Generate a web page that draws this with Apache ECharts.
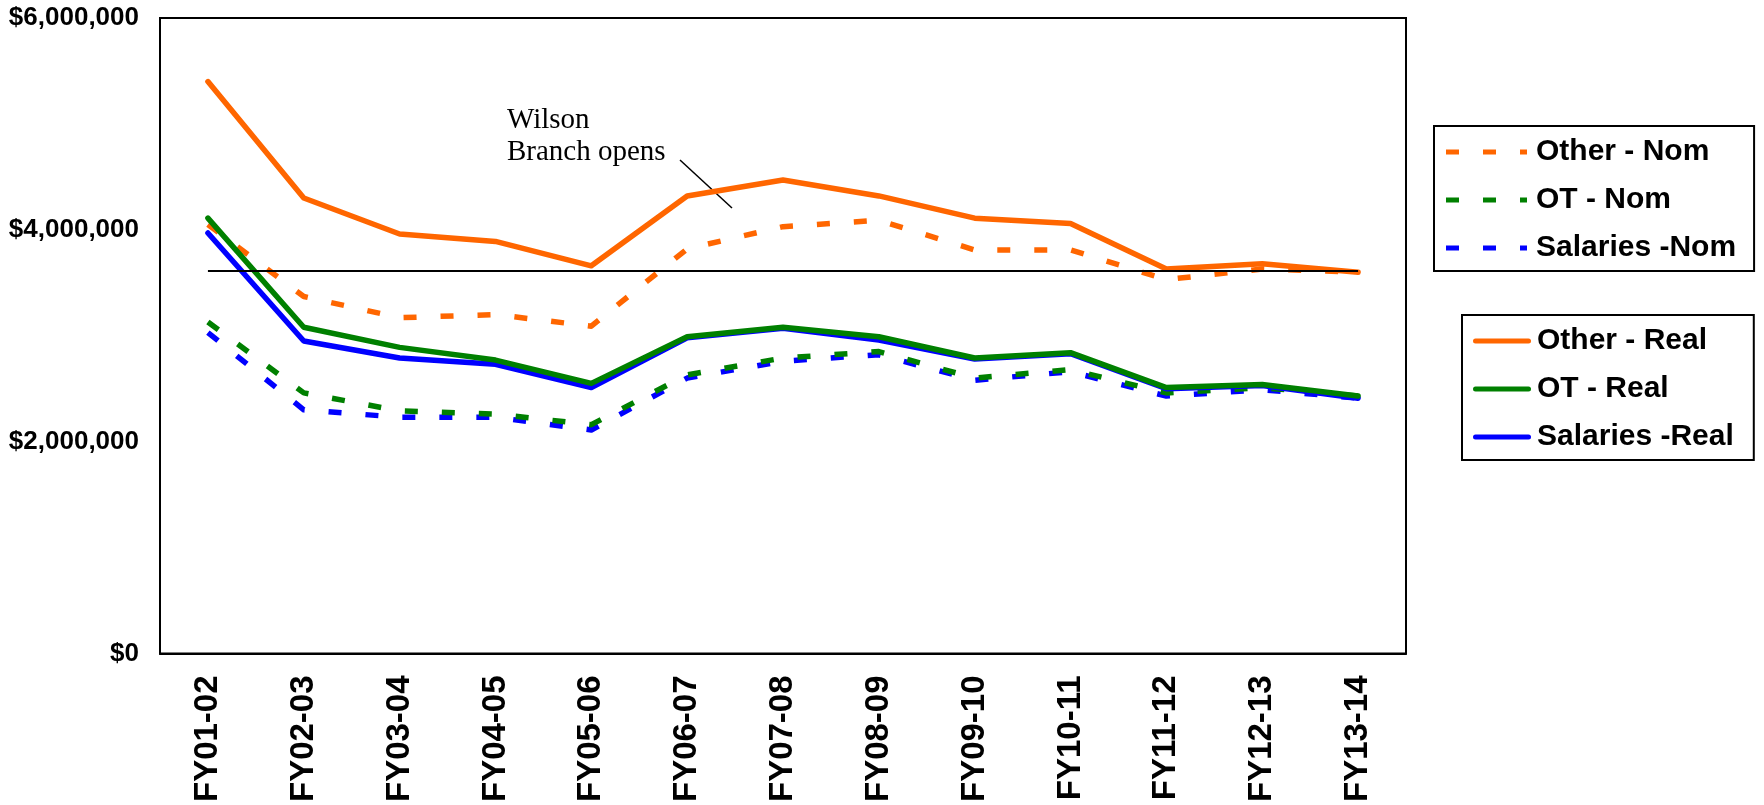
<!DOCTYPE html>
<html>
<head>
<meta charset="utf-8">
<script src="https://cdn.jsdelivr.net/npm/echarts@6/dist/echarts.min.js"></script>
<style>
html,body{margin:0;padding:0;background:#fff;}
#chart{width:1764px;height:805px;}
</style>
</head>
<body>
<div id="chart"></div>
<script>
const categories = ['FY01-02','FY02-03','FY03-04','FY04-05','FY05-06','FY06-07','FY07-08','FY08-09','FY09-10','FY10-11','FY11-12','FY12-13','FY13-14'];
const otherNom  = [4050000, 3370000, 3170000, 3200000, 3090000, 3820000, 4030000, 4090000, 3810000, 3810000, 3530000, 3630000, 3600000];
const otNom     = [3130000, 2460000, 2290000, 2260000, 2160000, 2630000, 2790000, 2850000, 2600000, 2680000, 2460000, 2510000, 2430000];
const salNom    = [3030000, 2300000, 2230000, 2230000, 2110000, 2600000, 2760000, 2820000, 2580000, 2660000, 2430000, 2490000, 2410000];
const otherReal = [5400000, 4300000, 3960000, 3890000, 3660000, 4320000, 4470000, 4320000, 4110000, 4060000, 3630000, 3680000, 3600000];
const otReal    = [4110000, 3080000, 2890000, 2770000, 2550000, 2990000, 3080000, 2990000, 2790000, 2840000, 2510000, 2540000, 2430000];
const salReal   = [3970000, 2950000, 2790000, 2730000, 2510000, 2980000, 3070000, 2960000, 2780000, 2830000, 2500000, 2530000, 2410000];
const referenceLevel = 3610000;
const yTicks = [0, 2000000, 4000000, 6000000];
const nomNames = ['Other - Nom', 'OT - Nom', 'Salaries -Nom'];
const realNames = ['Other - Real', 'OT - Real', 'Salaries -Real'];
const annotationLines = ['Wilson', 'Branch opens'];

const ORANGE = '#FF6600', GREEN = '#008000', BLUE = '#0000FF';
const DASH = [13, 24];
const LW = 5.5;

// legend icons (shape only)
const DASH_ICON = 'path://M0,0h13v5h-13z M37,0h13v5h-13z M74,0h7v5h-7z';
const SOLID_ICON = 'path://M2.5,0h53a2.5,2.5 0 0 1 0,5h-53a2.5,2.5 0 0 1 0,-5z';

function lineSeries(name, data, color, dashed, extra) {
  return Object.assign({
    name: name,
    type: 'line',
    data: data,
    symbol: 'none',
    showSymbol: false,
    color: color,
    lineStyle: { color: color, width: LW, type: dashed ? DASH : 'solid', cap: dashed ? 'butt' : 'round', join: 'round' },
    itemStyle: { color: color },
    silent: true
  }, extra || {});
}

const chart = echarts.init(document.getElementById('chart'), null, { renderer: 'canvas' });

const legendText = { fontFamily: 'Liberation Sans, Arial, sans-serif', fontWeight: 'bold', fontSize: 30, color: '#000', lineHeight: 30 };

chart.setOption({
  animation: false,
  backgroundColor: '#fff',
  grid: {
    left: 160, right: 358, top: 18, bottom: 151,
    show: true, borderColor: '#000', borderWidth: 2, backgroundColor: 'transparent'
  },
  xAxis: {
    type: 'category',
    data: categories,
    boundaryGap: true,
    axisLine: { show: true, lineStyle: { color: '#000', width: 2 } },
    axisTick: { show: false },
    splitLine: { show: false },
    axisLabel: {
      rotate: 90,
      margin: 22,
      interval: 0,
      color: '#000',
      fontFamily: 'Liberation Sans, Arial, sans-serif',
      fontWeight: 'bold',
      fontSize: 33
    }
  },
  yAxis: {
    type: 'value',
    min: yTicks[0],
    max: yTicks[yTicks.length - 1],
    interval: yTicks[1] - yTicks[0],
    axisLine: { show: true, lineStyle: { color: '#000', width: 2 } },
    axisTick: { show: false },
    splitLine: { show: false },
    axisLabel: {
      margin: 21,
      color: '#000',
      fontFamily: 'Liberation Sans, Arial, sans-serif',
      fontWeight: 'bold',
      fontSize: 26,
      formatter: function (v) { return '$' + v.toLocaleString('en-US'); }
    }
  },
  legend: [
    {
      data: nomNames.map(function (n) { return { name: n, icon: DASH_ICON }; }),
      orient: 'vertical',
      left: 1434, top: 126,
      itemWidth: 81, itemHeight: 5, itemGap: 18,
      padding: [11, 18, 8, 12],
      borderColor: '#000', borderWidth: 2,
      backgroundColor: '#fff',
      selectedMode: false,
      textStyle: Object.assign({ padding: [0, 0, 0, 4] }, legendText)
    },
    {
      data: realNames.map(function (n) { return { name: n, icon: SOLID_ICON }; }),
      orient: 'vertical',
      left: 1462, top: 315,
      itemWidth: 58, itemHeight: 5, itemGap: 18,
      padding: [11, 20, 8, 11],
      borderColor: '#000', borderWidth: 2,
      backgroundColor: '#fff',
      selectedMode: false,
      textStyle: Object.assign({ padding: [0, 0, 0, 1] }, legendText)
    }
  ],
  series: [
    lineSeries(nomNames[2], salNom, BLUE, true),
    lineSeries(nomNames[1], otNom, GREEN, true),
    lineSeries(nomNames[0], otherNom, ORANGE, true),
    lineSeries(realNames[2], salReal, BLUE, false),
    lineSeries(realNames[1], otReal, GREEN, false),
    lineSeries(realNames[0], otherReal, ORANGE, false, {
      markLine: {
        silent: true,
        symbol: ['none', 'none'],
        label: { show: false },
        lineStyle: { color: '#000', width: 2, type: 'solid' },
        data: [[
          { coord: [categories[0], referenceLevel] },
          { coord: [categories[categories.length - 1], referenceLevel] }
        ]]
      }
    })
  ],
  graphic: [
    {
      type: 'text', left: 507, top: 104,
      style: {
        text: annotationLines.join('\n'),
        font: '29px "Liberation Serif", "Times New Roman", serif',
        lineHeight: 32,
        fill: '#000'
      },
      silent: true
    },
    {
      type: 'line',
      shape: { x1: 680, y1: 160, x2: 732, y2: 208 },
      style: { stroke: '#000', lineWidth: 1.5 },
      silent: true
    }
  ]
});
</script>
</body>
</html>
